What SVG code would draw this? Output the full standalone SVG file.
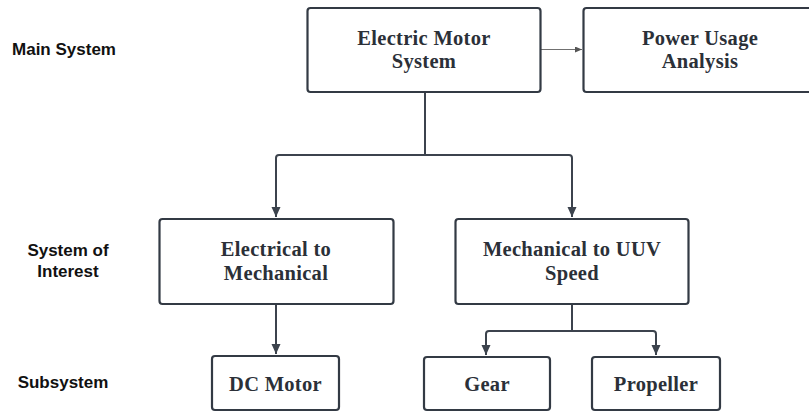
<svg xmlns="http://www.w3.org/2000/svg" width="809" height="412" viewBox="0 0 809 412">
<style>
.box{fill:#ffffff;stroke:#333a44;stroke-width:2.2}
.bt{font-family:"Liberation Serif","DejaVu Serif",serif;font-weight:bold;font-size:20.5px;letter-spacing:0.3px;fill:#2b3038;text-anchor:middle}
.lbl{font-family:"Liberation Sans",Arial,sans-serif;font-weight:bold;font-size:17px;fill:#111111;text-anchor:middle}
.con{fill:none;stroke:#3c434d;stroke-width:2;stroke-linejoin:round}
.thin{fill:none;stroke:#707070;stroke-width:1}
</style>
<defs>
<marker id="ah" viewBox="0 0 10 10" refX="10" refY="5" markerWidth="10" markerHeight="10" markerUnits="userSpaceOnUse" orient="auto">
<path d="M0,0.5 L10,5 L0,9.5 Z" fill="#3c434d"/>
</marker>
<marker id="ahs" viewBox="0 0 10 10" refX="10" refY="5" markerWidth="7" markerHeight="6" markerUnits="userSpaceOnUse" orient="auto" preserveAspectRatio="none">
<path d="M0,0 L10,5 L0,10 Z" fill="#555555"/>
</marker>
</defs>
<rect width="809" height="412" fill="#ffffff"/>
<g id="labels">
<text class="lbl" x="64" y="55">Main System</text>
<text class="lbl" x="68" y="256">System of</text>
<text class="lbl" x="68" y="277">Interest</text>
<text class="lbl" x="63" y="388">Subsystem</text>
</g>
<g id="connectors">
<path class="thin" d="M541,49.5 H582" marker-end="url(#ahs)"/>
<path class="con" d="M425,93 V155"/>
<path class="con" d="M425,155 H279 Q276,155 276,158 V217" marker-end="url(#ah)"/>
<path class="con" d="M425,155 H569 Q572,155 572,158 V217" marker-end="url(#ah)"/>
<path class="con" d="M276,305 V354" marker-end="url(#ah)"/>
<path class="con" d="M572,305 V331"/>
<path class="con" d="M572,331 H489 Q486,331 486,334 V355" marker-end="url(#ah)"/>
<path class="con" d="M572,331 H653 Q656,331 656,334 V355" marker-end="url(#ah)"/>
</g>
<g id="node-electric-motor-system">
<rect class="box" x="307.5" y="8" width="233" height="84" rx="3"/>
<text class="bt" x="424" y="45">Electric Motor</text>
<text class="bt" x="424" y="68">System</text>
</g>
<g id="node-power-usage-analysis">
<rect class="box" x="583.5" y="8" width="233" height="84" rx="3"/>
<text class="bt" x="700" y="45">Power Usage</text>
<text class="bt" x="700" y="68">Analysis</text>
</g>
<g id="node-electrical-to-mechanical">
<rect class="box" x="159.5" y="219" width="234" height="85" rx="3"/>
<text class="bt" x="276" y="256">Electrical to</text>
<text class="bt" x="276" y="280">Mechanical</text>
</g>
<g id="node-mechanical-to-uuv-speed">
<rect class="box" x="455.5" y="219" width="233" height="85" rx="3"/>
<text class="bt" x="572" y="256">Mechanical to UUV</text>
<text class="bt" x="572" y="280">Speed</text>
</g>
<g id="node-dc-motor">
<rect class="box" x="212" y="356" width="127" height="54" rx="3"/>
<text class="bt" x="275.5" y="391">DC Motor</text>
</g>
<g id="node-gear">
<rect class="box" x="424" y="357" width="126" height="53" rx="3"/>
<text class="bt" x="487" y="391">Gear</text>
</g>
<g id="node-propeller">
<rect class="box" x="592" y="357" width="128" height="53" rx="3"/>
<text class="bt" x="656" y="391">Propeller</text>
</g>
</svg>
